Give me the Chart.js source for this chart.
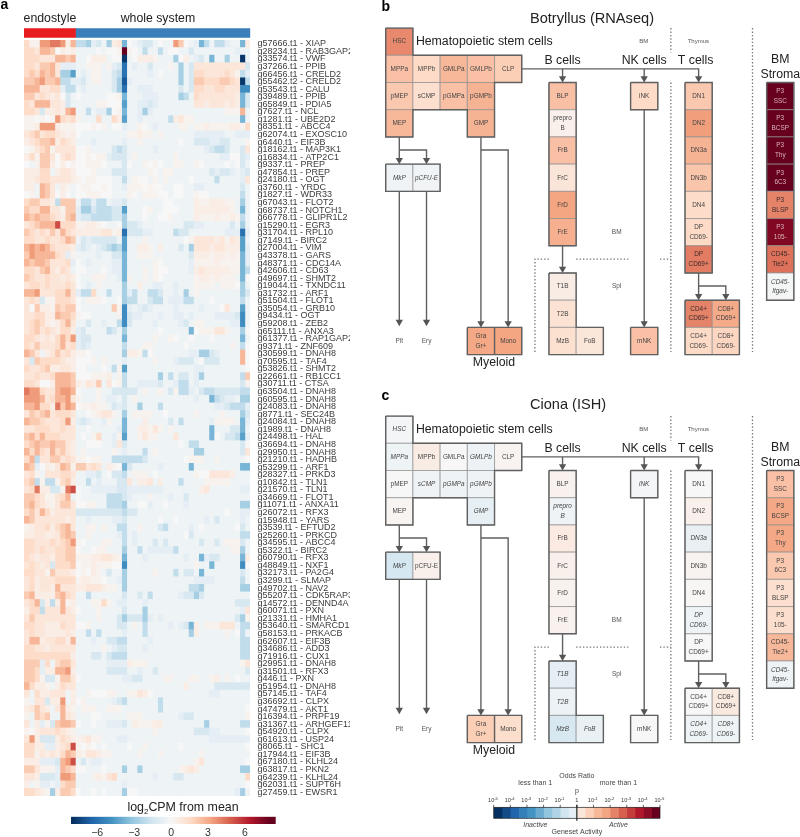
<!DOCTYPE html>
<html><head><meta charset="utf-8">
<style>
html,body{margin:0;padding:0;background:#fff;width:800px;height:837px;overflow:hidden;font-family:"Liberation Sans",Arial,sans-serif}
canvas{position:absolute;display:block}
#cbTitle{position:absolute;left:60px;width:246px;top:800px;text-align:center;font-size:12.4px;line-height:14px;color:#222}
#cbTitle sub{font-size:8px;line-height:0}
</style>
<script src="https://cdn.jsdelivr.net/npm/chart.js@4"></script>
</head><body>
<canvas id="heat" width="350" height="837" style="left:0;top:0;width:350px;height:837px"></canvas>
<canvas id="anno" width="260" height="40" style="left:0;top:0;width:260px;height:40px"></canvas>
<canvas id="cbar" width="246" height="42" style="left:60px;top:795px;width:246px;height:42px"></canvas>
<div id="cbTitle">log<sub>2</sub>CPM from mean</div>
<canvas id="panelB" width="450" height="388" style="left:350px;top:0;width:450px;height:388px"></canvas>
<canvas id="panelC" width="450" height="388" style="left:350px;top:388px;width:450px;height:388px"></canvas>
<canvas id="legend" width="200" height="67" style="left:480px;top:770px;width:200px;height:67px"></canvas>
<script>
const FONT='"Liberation Sans",Arial,sans-serif';

// ---------- panel a data ----------
const geneLabels=["g57666.t1 - XIAP","g28234.t1 - RAB3GAP2","g33574.t1 - VWF","g37266.t1 - PPIB","g66456.t1 - CRELD2","g55462.t2 - CRELD2","g53543.t1 - CALU","g39489.t1 - PPIB","g65849.t1 - PDIA5","g7627.t1 - NCL","g1281.t1 - UBE2D2","g8351.t1 - ABCC4","g62074.t1 - EXOSC10","g6440.t1 - EIF3B","g18162.t1 - MAP3K1","g16834.t1 - ATP2C1","g9337.t1 - PREP","g47854.t1 - PREP","g24180.t1 - OGT","g3760.t1 - YRDC","g1827.t1 - WDR33","g67043.t1 - FLOT2","g68737.t1 - NOTCH1","g66778.t1 - GLIPR1L2","g15290.t1 - EGR3","g31704.t1 - RPL10","g7149.t1 - BIRC2","g27004.t1 - VIM","g43378.t1 - GARS","g48371.t1 - CDC14A","g42606.t1 - CD63","g49697.t1 - SHMT2","g19044.t1 - TXNDC11","g31732.t1 - ARF1","g51504.t1 - FLOT1","g35054.t1 - GRB10","g9434.t1 - OGT","g59208.t1 - ZEB2","g65111.t1 - ANXA3","g61377.t1 - RAP1GAP2","g9371.t1 - ZNF609","g30599.t1 - DNAH8","g70595.t1 - TAF4","g53826.t1 - SHMT2","g22661.t1 - RB1CC1","g30711.t1 - CTSA","g63504.t1 - DNAH8","g60595.t1 - DNAH8","g24083.t1 - DNAH8","g8771.t1 - SEC24B","g24084.t1 - DNAH8","g1989.t1 - DNAH8","g24498.t1 - HAL","g36694.t1 - DNAH8","g29950.t1 - DNAH8","g21210.t1 - HADHB","g53299.t1 - ARF1","g28327.t1 - PRKD3","g10842.t1 - TLN1","g21570.t1 - TLN1","g34669.t1 - FLOT1","g11071.t1 - ANXA11","g26072.t1 - RFX3","g15948.t1 - YARS","g3539.t1 - EFTUD2","g25260.t1 - PRKCD","g34595.t1 - ABCC4","g5322.t1 - BIRC2","g60790.t1 - RFX3","g48849.t1 - NXF1","g32173.t1 - PA2G4","g3299.t1 - SLMAP","g49702.t1 - NAV2","g55207.t1 - CDK5RAP3","g14572.t1 - DENND4A","g60071.t1 - PXN","g21331.t1 - HMHA1","g53640.t1 - SMARCD1","g58153.t1 - PRKACB","g62607.t1 - EIF3B","g34686.t1 - ADD3","g71916.t1 - CUX1","g29951.t1 - DNAH8","g31501.t1 - RFX3","g446.t1 - PXN","g51954.t1 - DNAH8","g57145.t1 - TAF4","g36692.t1 - CLPX","g47479.t1 - AKT1","g16394.t1 - PRPF19","g31367.t1 - ARHGEF11","g54920.t1 - CLPX","g61613.t1 - USP24","g8065.t1 - SHC1","g17944.t1 - EIF3B","g67180.t1 - KLHL24","g63817.t1 - PKN2","g64239.t1 - KLHL24","g62031.t1 - SUPT6H","g27459.t1 - EWSR1"];

// value codes read per cell from the picture (see levelValues)
const levelValues={'0':0,a:.3,b:.6,c:1,d:1.5,e:2.1,f:2.7,g:3.4,h:4.2,i:5.2,j:6.5,k:8,A:-.4,B:-.8,C:-1.3,D:-2,E:-2.7,F:-3.7,G:-4.4,H:-5,I:-6,J:-6.8,K:-7.8};
// groups: endostyle columns | whole-system 1-9 | 10 | 11-32 | 33 | 34
const cellRows=[
"daagghhgbf DDEBCAEbc F 0ABCCA0AAge0ABFDADDBAA F b",
"ddcffe0bab AAAA0A00a k a0ADAADA00AACAAAAAAAAB A A",
"dddcccffef AA0bbbA00 K A0bbbaAAAE0bABCAFAAEAA K A",
"ddceefcBBB AAaaaAaBC I ABAACAAAaAEACcccccccccc C F",
"dedfefcEEG ABAaaAACD I AAAABA0AAAEACddccccdca D B",
"eefgeefDDB BCAaaAACE J BAAAAAAAAAEACeedddeedc K D",
"fffccddBDD ABAAAAACE I AABBBAAAAACACddccddccc H H",
"eecdcbc0CA 0AAAAA00a F AAABBBAAAAEDAdcccccccb F C",
"dcfffccbCA AAAAaa000 G AABBCBAAAAAAAccbcccbcb F C",
"ddcCbbcbfg AADABBE0a F AABEBAAAAAAAAAAAAAAaaa f A",
"aa0a0agdcd aAAAdAAdb G AABAAAAADbcaaAAAAAAAAA F A",
"aabgggbaaa 000a0aA00 B AAa0ABAAAAaaAaabaaaabb a d",
"cdecddcbab 0AAAAAAAA A aabaaAaAAAAAABBBBBBAAB B B",
"bcdeefbdcb AAABAAAAA B AAaAAAAAAA0AACCCBBCCAA A a",
"0acdeacccc 00aAAAACD C AAAAABAAAAAAAAABCDDCAA C c",
"bdaeec0cdc 00a0aaBCC C AaAAAAAAAaAAAAAAAABB00 C B",
"0Aaeeb0b0a 00aaa0AAA C 0AAa0a0AAaaAAa0AAAA0A0 C A",
"bbbddAbccb 000aAAACC C AAAAa0AaaAAAAAAACBCCBA B C",
"bbcddccccb a0aa000AA D Aa00AaAaAAAA0AAAADAAAA B c",
"bbAfecAbaA 0aa00a0AA B aaa0a00AA00AABBAAAAAAA C A",
"0aAfec0b0A 00aaa00AA A a0Aaaa00A00AAa00AAAAAA D A",
"deeccbDeee ADDBDDABB C AAAAAAA00AAAAbaabbbaaA E A",
"eddffccaee BEECDDDCC G AAA0aAA000AAAbbbbbbbaA F A",
"fefeedcbef BCCDDDDCC E AAA0AA00aAAAAbaaabaaba D A",
"cdefffiddd aabba0AA0 E CCBAAAAAAAACCBBAAAAACA E A",
"edcdcecfdc bbbbbccab I CCCBBAAAADCCAAAAAAABBB I B",
"ddccdccdfe ACBCCCCCA G AAAaAAAAAAA0accccbcacb G A",
"fgfgfdcccb BCBABCDED G AAbbaAbAAACAEcccbccbbb G B",
"egffffdcBa AAAABAACC F AAaaaAAAAAAACbbbabbaba F B",
"feffecccdB 0ABAAAABB F AAAAAa0AAAAABaaaabaaaa F B",
"ddcefcbdcA 00AAA0ABB F AAAaAa00AAAABbcbbbbbaa F D",
"edccdccbcb 0AAaaaAAB F aAAaAa0AAAAAAabbabaaaA F 0",
"cddcdcccdc 0ABAaAAAA E AAbAABBAABAAAaaaaAaaa0 E A",
"ffgcccddfc BDDdAADAA E BDAADDCAABAEAaAAAAAAAA E C",
"cdcCaadddc 0Aaaa0AA0 E DDAACDDABBBDDAAA0AAAAA D A",
"c0ebbaedee 0AAAAAAea H BABCBAAAABAAAABAAA0cAA G A",
"ccddbbfeed a00AAAAAa H CBBAAABAABBABAAAABBBBC H A",
"cdedbabdfc AACAABAAD H CAAAABAAAABCAaaAAAAABB H A",
"cdecdcbddb BCAAAADCA E AAAAAA0AAAAAF0aaaccaAA E 0",
"ddcbcbdfdg BCCAAAAAA F AAAAAaAAa0AA0AAA0AAAAA F A",
"dcecccdfcd BCBAAAAAA D AAAaaAAAAAA0AAAAAAAAaA D 0",
"fecAbcecdb aa0AAAAAA E bbaD0AAAAAAABBEECBAAAA f 0",
"cCeddddcbb 000aAaAAA B AAAAAaAAABCCCA0CCCAAAA f 0",
"dccdebbccb 00AAA0ADa G AAAAAAAAAAAAABBAAAAAAA A 0",
"ccdccdfffe 000aaabAa D AAAAAAEADACCABEAAAAAAA D e",
"ddc00bfffe bacbeAc0a D AABBBBCAABDDABAAAAAAAA C a",
"hggdccfggf 0AAAaAACC C CCAaAAaACaDDBACDDCCCCC D D",
"gggfcdffgc aAAAaABBA C AaAAAAAAAAAAABAAFDCBBA E E",
"ffgddbhegf 0aabaaACB C AAEAAADAAAAAAAAAABBCDD D B",
"cedefcdddc AA0abccaA E AaaaaAA0AAAAAaAAAAaAAA E C",
"feedcccdgb BCBAABaAA F AAAbAAAACADAAAAABaaaaA F B",
"ccdddccdcc AA0AAAAAB F AAbbacaAaAAAAAAAFAAACC F A",
"efdfdddccc A0AadAABa G AAacaaAAAcAAAAAAF0ACCD G B",
"defeefeecb AA000AABc C AAAAAAAAAA0ADDAAAAAAAA C 0",
"fdfdcfdecb AaAAAAAaA B AAADAaAAAAAAAEEAAAAAAA C c",
"dfDcceecdc aa0aaAADD D DDDCAAAAAAA0aaaAAaAAAA A 0",
"feB0bacfea eecdcAba0 F CAAAAABAAAAAFAAAAAAAAA F F",
"cdaAcccddc AABBCA0CC D AaaaA0AAAAAAAa00ccccbA A A",
"deDaDDadeb AADABAAAC C cAbbcAbAAADAAAAaaaaaAA A A",
"cdhbbCCahi 0AABBBBBC C BBBBBBBAAAAAAAbcAAAAAA B B",
"eedcaacdfA 0AAAAADDD C BAAAaAAABAACAAAAAAAAAA A A",
"efdcbaceec 00aaAADDD E AA00BAA0AAABAAAAAAAAAA E E",
"decfdbcccc CCCCCCCCC D CCAAAAAAAAAAAAAAAAA0AA B B",
"feccccccbc AABAAAABB C AAAAAA0AA0AAAAABACAAAA B A",
"abccdbdefc AAaaAaAAD D AAaAAACDAAAABA0AAAAAA0 C A",
"bbccbbcefe AAaAAAAAB D ABAAAAAAAAA0CAAAAAAAAA D D",
"ddcccdcdeg a0AAAaaAA D ABAAACACAAAAAACAACAaaa C A",
"ddcdccddee 0AA0aaAAA E AADABBBBBDAAAAAAAAAAaa E A",
"dcbccbddee aaabbccba F AAABAAAAAAABAAFBCCAAAA F b",
"cdcbcCddde 0aabaaa00 H AAAAAAAAAAAAAaAAFAAAAA H 0",
"ddccaecccb 0a0baACAA E AAAAAaAAADACCAFAAAAAAA C A",
"cdbcccdddd abbaa0AAB E AAAAAAAAAAAAABBBBAAAAA D A",
"cdbccbfccc bbcccbaaA E AAAAAAAAAAAADDEAAAAAAA E E",
"efbbbbefdc AADAAAAAA C AACADAAAAABCCECAAAAAAA A A",
"cdfCbDbfab AAAaadaAB B AAABAAAAAAAAAAAAAAAAAC C C",
"bddDcccfcb 0AAAaAAAA C AAAEAAAAAAAAAAAAAAAAAA B c",
"cecccccccc AAAAaAAAC E CCCEBABAAAAAAAAAAAAAAC E a",
"ddccbbbdcc 00aAAAAAC C AaADAAAABABCFbAaaacccA D D",
"cdccbbbbcb AADADAAAA B AAADAAAAAAAAEbAAAAAaA0 D A",
"cffbccddbf AAABAACCD D AAAABAAAAAAAAAAAAAAAAA D D",
"ddccbccccc AAAAAaABC C AAABAAAAAAAAAAAAAAAAAA D D",
"dddddddddb AAACCACDD D AAAAAAAAAAAAAAAAAAAAAA D D",
"eeeBdAdeec AAAAAABBB B baaaAAAAAAAAAAAAAAAAAA a c",
"eedBbbffgb AAAAAACCC C AABAACAAAAAAAAAAAAAAAA A C",
"eedaCCaeec 0AAAAAAAA B BCCAAAAaaAAAaaAAabAaA0 A A",
"fdbbaAbdcc AAAAAAAAA A AAAAAAAAAAAbAAAAACCCCC C C",
"cAdbbcccAb AAa000aaA A aacb0AAAAAAAAAAABBAAAA A A",
"aAccCbbgAb 0aAAAAABC D AAAAAADAAAAAAAAAAAAAAA A A",
"bcecbAcfba AaaaAAaaa A AAAAAADAAAAAAAAAAAAAAA A 0",
"aAedeAAfcb AAA00AAAA A aaaAAAAAAABCCAAAAAAAAA A a",
"cAbBaCeffe 0AA0AABBB C AbaaabbAAAAAAAAEAAAAAA D D",
"a0bcccdcba AAAAAAAAA A AAAAAaAAAAAAACCCBBAAAA A 0",
"cgbCCCbdcb abcaaAAAB B AAAAAAAAAAAAAAAABBBBBB B B",
"ddbbBBbcdi a0a0A0AAA A 0AAaAAAAAA0AAAAAAAAAAA A 0",
"ddacbcbdfe baccbaaAA A AAaAAAaAAAAAAAaAAAAAAA A A",
"bbbBBBCfgi ACABBAAAA A AAAAAAAAAAAAAacAAAAAAA A 0",
"eecaaaBfed 00AAA0AAA E AAEAAAAAAAabcbAAAAAAAA E E",
"ccbCCCBggf AAAabacdA A AAAAABAAACCAAAAAAAAAAA A d",
"bAaBBABdee AAAAAAAAA B AAAAAAAAAAAAAAAAAAAAAA A 0",
"ddcbaEbeed 0AA0A0AAA E 00AAAAAAAAAAAAAAAAAAAB E A"
];
const heatColumnCount=44;
const sampleGroups=["endostyle","whole system"];
const sampleGroupSizes=[10,34];
const colorbarTicks=[-6,-3,0,3,6];

// ---------- panels b and c data ----------
const cellNames=["HSC","MPPa","MPPb","GMLPa","GMLPb","CLP","pMEP","sCMP","pGMPa","pGMPb","MEP","GMP","MkP","pCFU-E","BLP","prepro\nB","FrB","FrC","FrD","FrE","T1B","T2B","MzB","FoB","iNK","mNK","DN1","DN2","DN3a","DN3b","DN4","DP\nCD69-","DP\nCD69+","CD4+\nCD69+","CD8+\nCD69+","CD4+\nCD69-","CD8+\nCD69-","Gra\nGr+","Mono","P3\nSSC","P3\nBCSP","P3\nThy","P3\n6C3","P3\nBLSP","P3\n105-","CD45-\nTie2+","CD45-\nItgav-"];
const cellCols=[0,0,1,2,3,4,0,1,2,3,0,3,0,1,6,6,6,6,6,6,6,6,6,7,9,9,11,11,11,11,11,11,11,11,12,11,12,3,4,14,14,14,14,14,14,14,14];
const cellLevels=[0,1,1,1,1,1,2,2,2,2,3,3,5,5,2,3,4,5,6,7,9,10,11,11,2,11,2,3,4,5,6,7,8,10,10,11,11,11,11,2,3,4,5,6,7,8,9];
const botryllusActivity=[4.8,3,2,3.3,3,2.5,2.7,1.7,3,3.5,3.3,3.5,-.4,-.3,3,.5,3,1.3,4,3.6,.8,1.5,1.6,1.2,2,3,2.7,4.2,3.5,2.8,1.9,2,5.2,5,3.8,2,2.2,3.9,4,10,10,10,10,5,9.3,5.5,-.15];
const cionaActivity=[-.2,-.5,.8,0,-.6,.3,0,-.4,-.5,-.4,.2,-.9,-1.8,.5,.4,-.4,.9,.5,.4,.4,-1,-.6,-1.7,-.7,-.2,0,0,.5,-.8,.3,.1,-.5,0,0,1,-.5,-.5,2.5,1.8,3,3.9,3.9,2.7,1.7,1.8,3.3,-.5];

// structure of the diagram in grid units (col,row)
const groupOutlines=[
 [[-.5,-.5],[.5,-.5],[.5,.5],[4.5,.5],[4.5,1.5],[3.5,1.5],[3.5,3.5],[2.5,3.5],[2.5,2.5],[.5,2.5],[.5,3.5],[-.5,3.5],[-.5,-.5]],
 [[-.5,4.5],[1.5,4.5],[1.5,5.5],[-.5,5.5],[-.5,4.5]],
 [[2.5,10.5],[4.5,10.5],[4.5,11.5],[2.5,11.5],[2.5,10.5]],[[3.5,10.5],[3.5,11.5]],
 [[5.5,1.5],[6.5,1.5],[6.5,7.5],[5.5,7.5],[5.5,1.5]],
 [[5.5,8.5],[6.5,8.5],[6.5,10.5],[7.5,10.5],[7.5,11.5],[5.5,11.5],[5.5,8.5]],
 [[8.5,1.5],[9.5,1.5],[9.5,2.5],[8.5,2.5],[8.5,1.5]],
 [[8.5,10.5],[9.5,10.5],[9.5,11.5],[8.5,11.5],[8.5,10.5]],
 [[10.5,1.5],[11.5,1.5],[11.5,8.5],[10.5,8.5],[10.5,1.5]],
 [[10.5,9.5],[12.5,9.5],[12.5,11.5],[10.5,11.5],[10.5,9.5]],
 [[13.5,1.5],[14.5,1.5],[14.5,9.5],[13.5,9.5],[13.5,1.5]]
];
const connectors=[
 [[4.5,1],[11,1],[11,1.4]],[[6,1],[6,1.4]],[[9,1],[9,1.4]],
 [[0,3.5],[0,4.4]],[[0,3.98],[1,3.98],[1,4.4]],[[0,5.5],[0,10.3]],[[1,5.5],[1,10.3]],
 [[3,3.5],[3,10.4]],[[3,3.98],[4,3.98],[4,10.4]],
 [[6,7.5],[6,8.4]],[[9,2.5],[9,10.4]],
 [[11,8.5],[11,9.4]],[[11,8.98],[12,8.98],[12,9.4]]
];
const dottedLines=[
 [[9.98,-.5],[9.98,.4]],[[9.98,1.5],[9.98,11.4]],[[12.98,-.5],[12.98,11.4]],
 [[4.985,11.4],[4.985,7.99],[5.5,7.99]],[[6.5,7.99],[8.42,7.99]],[[9.58,7.99],[9.98,7.99]]
];
const arrowHeads=[[6,1.35],[9,1.35],[11,1.35],[0,4.35],[1,4.35],[3,10.35],[4,10.35],[0,10.3],[1,10.3],[6,8.35],[9,10.35],[11,9.35],[12,9.35]];
const diagramLabels=[
 {t:"Hematopoietic stem cells",c:.61,r:0,s:12.3,a:"left"},
 {t:"B cells",c:6,r:.7,s:12.3},{t:"NK cells",c:9,r:.7,s:12.3},{t:"T cells",c:10.89,r:.7,s:12.3},
 {t:"BM",c:8.98,r:0,s:6},{t:"Thymus",c:10.99,r:0,s:6},{t:"BM",c:7.99,r:7,s:6.5},{t:"Spl",c:7.99,r:9,s:6.5},
 {t:"Plt",c:0,r:11,s:6.5},{t:"Ery",c:1,r:11,s:6.5},
 {t:"Myeloid",c:3.48,r:11.8,s:12.3},{t:"BM",c:14,r:.64,s:12.3},{t:"Stroma",c:14,r:1.22,s:12.3}
];

// ---------- colour scales ----------
const rdBu=[[5,48,97],[33,102,172],[67,147,195],[146,197,222],[209,229,240],[247,247,247],[253,219,199],[244,165,130],[214,96,77],[178,24,43],[103,0,31]];
function rdBuColor(v,half){
  const t=Math.max(0,Math.min(1,(v+half)/(2*half)))*10,i=Math.min(9,Math.floor(t)),f=t-i,a=rdBu[i],b=rdBu[i+1];
  return `rgb(${a.map((x,k)=>Math.round(x+(b[k]-x)*f)).join(',')})`;
}
Chart.defaults.font.family=FONT;
Chart.defaults.animation=false;
Chart.defaults.responsive=false;
Chart.defaults.plugins.legend.display=false;
Chart.defaults.plugins.tooltip.enabled=false;

// ---------- panel a: heat map ----------
const parsedRows=cellRows.map(s=>{const p=s.split(' ');return (p[0]+p[1]+p[2]+p[3]+p[4]+p[5]).split('').map(ch=>levelValues[ch]);});
const heatDatasets=[];
for(let c=0;c<heatColumnCount;c++){
  heatDatasets.push({data:parsedRows.map(()=>[c,c+1]),backgroundColor:parsedRows.map(r=>rdBuColor(r[c],8)),borderWidth:0,barPercentage:1,categoryPercentage:1});
}
new Chart(document.getElementById('heat'),{type:'bar',data:{labels:geneLabels,datasets:heatDatasets},options:{
  indexAxis:'y',layout:{padding:{left:24,top:40,bottom:41,right:0}},
  scales:{
    x:{type:'linear',min:0,max:heatColumnCount,display:false,stacked:false},
    y:{type:'category',position:'right',stacked:true,grid:{display:false,drawTicks:false},border:{display:false},
      afterFit:s=>{s.width=100;},
      ticks:{autoSkip:false,font:{size:9},color:'#3c3c3c',padding:7.5,maxRotation:0,minRotation:0}}
  }}});

// annotation strip
const annoColors=['#e81c1f','#3a7fb9'];
let annoStart=0;
const annoDatasets=sampleGroups.map((g,i)=>{const d={label:g,data:[[annoStart,annoStart+sampleGroupSizes[i]]],backgroundColor:annoColors[i],borderWidth:0,barPercentage:1,categoryPercentage:1};annoStart+=sampleGroupSizes[i];return d;});
new Chart(document.getElementById('anno'),{type:'bar',data:{labels:[''],datasets:annoDatasets},options:{
  indexAxis:'y',layout:{padding:{left:24,right:9.7,top:28.3,bottom:2.3}},
  scales:{x:{type:'linear',min:0,max:heatColumnCount,display:false,stacked:false},y:{display:false,stacked:true}}
},plugins:[{id:'annoText',afterDatasetsDraw(ch){
  const c=ch.ctx,x=ch.scales.x;c.save();c.fillStyle='#222';c.textBaseline='middle';
  c.font='12.3px '+FONT;c.textAlign='center';
  c.fillText(sampleGroups[0],x.getPixelForValue(5)+.2,18.3);
  c.fillText(sampleGroups[1],x.getPixelForValue(26)+.2,18.3);
  c.font='bold 14px '+FONT;c.textAlign='left';c.fillStyle='#000';c.fillText('a',0.5,5.5);
  c.restore();}}]});

// colour bar
new Chart(document.getElementById('cbar'),{type:'bar',data:{labels:[''],datasets:[{data:[[-8.13,8.5]],borderWidth:0,barPercentage:1,categoryPercentage:1,
  backgroundColor(ctx){const a=ctx.chart.chartArea;if(!a)return '#ccc';const sx=ctx.chart.scales.x,g=ctx.chart.ctx.createLinearGradient(a.left,0,a.right,0);
    for(let i=0;i<=10;i++){const v=-8+1.6*i;g.addColorStop((sx.getPixelForValue(v)-a.left)/(a.right-a.left),rdBuColor(v,8));}return g;}}]},options:{
  indexAxis:'y',layout:{padding:{left:11,right:30.3,top:21.7,bottom:0}},
  scales:{x:{type:'linear',min:-8.13,max:8.5,stacked:false,grid:{display:false,drawTicks:false},border:{display:false},
     afterBuildTicks:s=>{s.ticks=colorbarTicks.map(v=>({value:v}));},afterFit:s=>{s.height=13;},
     ticks:{font:{size:10.5},color:'#333',padding:3,autoSkip:false,maxRotation:0,callback:v=>String(v).replace('-','\u2212')}},
    y:{display:false,stacked:true}}}});

// ---------- panels b, c ----------
function linesToDataset(poly,color,width,dash,order){
  return {type:'scatter',showLine:true,data:poly.map(p=>({x:p[0],y:p[1]})),borderColor:color,borderWidth:width,borderDash:dash||[],pointRadius:0,fill:false,tension:0,order:order,borderJoinStyle:'miter',clip:false};
}
function drawPanel(id,activity,title,titleRow,letter,letterRow){
  const ds=[];
  ds.push({type:'scatter',data:arrowHeads.map(p=>({x:p[0],y:p[1]})),pointStyle:'triangle',pointRotation:180,pointRadius:4.2,pointBackgroundColor:'#555',pointBorderWidth:0,showLine:false,order:0});
  connectors.forEach(p=>ds.push(linesToDataset(p,'#606060',1.4,null,1)));
  groupOutlines.forEach(p=>ds.push(linesToDataset(p,'#606060',1.4,null,1)));
  dottedLines.forEach(p=>ds.push(linesToDataset(p,'#777',1.3,[1.4,2],1)));
  ds.push({type:'scatter',data:cellNames.map((n,i)=>({x:cellCols[i],y:cellLevels[i]})),pointStyle:'rect',pointRadius:19.24,showLine:false,order:2,
    pointBackgroundColor:activity.map(v=>rdBuColor(v,10)),pointBorderColor:'#8f8f8f',pointBorderWidth:.7});
  new Chart(document.getElementById(id),{type:'scatter',data:{datasets:ds},options:{
    layout:{padding:0,autoPadding:false},
    scales:{x:{type:'linear',min:-1.812,max:14.726,display:false},y:{type:'linear',min:-1.532,max:12.727,reverse:true,display:false}}
  },plugins:[{id:'panelText',afterDatasetsDraw(ch){
    const c=ch.ctx,X=v=>ch.scales.x.getPixelForValue(v),Y=v=>ch.scales.y.getPixelForValue(v);
    c.save();c.textBaseline='middle';
    cellNames.forEach((n,i)=>{
      const v=activity[i],ls=n.split('\n'),y=Y(cellLevels[i]),x=X(cellCols[i]);
      c.font=(v<0?'italic ':'')+'6.4px '+FONT;c.textAlign='center';c.fillStyle=v>=8?'#dcb6bc':(v>=5?'#3a2a2a':'#444');
      ls.forEach((t,k)=>c.fillText(t,x,y+(k-(ls.length-1)/2)*9.6));
    });
    c.fillStyle='#2a2a2a';
    diagramLabels.forEach(l=>{c.font=l.s+'px '+FONT;c.textAlign=l.a||'center';c.fillStyle=l.s<8?'#555':'#222';c.fillText(l.t,X(l.c),Y(l.r));});
    c.fillStyle='#222';c.font='14.6px '+FONT;c.textAlign='left';c.fillText(title,X(4.8),Y(titleRow));
    c.fillStyle='#000';c.font='bold 14px '+FONT;c.fillText(letter,31.5,Y(letterRow));
    c.restore();}}]});
}
drawPanel('panelB',botryllusActivity,'Botryllus (RNAseq)',-.82,'b',-1.28);
drawPanel('panelC',cionaActivity,'Ciona (ISH)',-.92,'c',-1.24);

// ---------- activity legend ----------
const legendEdges=[-5,-4.5,-4,-3.5,-3,-2.5,-2,-1.5,-1,-.5,0,.5,1,1.5,2,2.5,3,3.5,4,4.5,5];
const legendColors=['#053061','#134b87','#2166ac','#3480b9','#4393c3','#6dacd1','#92c5de','#b1d5e7','#d1e5f0','#e4eef4','#fbe5d8','#fcd0b9','#f7b799','#f4a582','#e58368','#d6604d','#c43c3c','#b2182b','#8c0d25','#67001f'];
const legendDecades=[-5,-4,-3,-2,-1,0,1,2,3,4,5];
const legendDs=legendColors.map((col,i)=>({data:[[legendEdges[i],legendEdges[i+1]]],backgroundColor:col,borderWidth:0,barPercentage:1,categoryPercentage:1}));
new Chart(document.getElementById('legend'),{type:'bar',data:{labels:[''],datasets:legendDs},options:{
  indexAxis:'y',layout:{padding:{left:13.7,right:20,top:37.3,bottom:18.7}},
  scales:{x:{type:'linear',min:-5,max:5,display:false,stacked:false},y:{display:false,stacked:true}}
},plugins:[{id:'legendText',afterDatasetsDraw(ch){
  const c=ch.ctx,sx=ch.scales.x,a=ch.chartArea,X=v=>sx.getPixelForValue(v);
  c.save();c.strokeStyle='#222';c.lineWidth=.7;
  c.strokeRect(a.left,a.top,a.right-a.left,a.bottom-a.top);
  c.textBaseline='middle';c.textAlign='center';c.fillStyle='#333';
  legendDecades.forEach(d=>{
    const x=X(d);c.beginPath();c.moveTo(x,a.top);c.lineTo(x,a.top-2.5);c.stroke();
    if(d===0){c.font='5.5px '+FONT;c.fillText('1',x,a.top-7);}
    else{c.font='5.5px '+FONT;c.textAlign='right';c.fillText('10',x+.5,a.top-6.5);c.font='4.2px '+FONT;c.textAlign='left';c.fillText('-'+Math.abs(d),x+.5,a.top-8.5);c.textAlign='center';}
  });
  c.lineWidth=1.2;c.beginPath();c.moveTo(X(0),a.top-2.5);c.lineTo(X(0),a.bottom+2.5);c.stroke();
  c.font='7px '+FONT;c.fillStyle='#444';
  c.fillText('Odds Ratio',X(0),6.3);c.fillText('less than 1',X(-2.5),13.3);c.fillText('more than 1',X(2.5),13.3);c.fillText('p',X(0),21);
  c.fillText('Geneset Activity',X(0),61.7);
  c.font='italic 7px '+FONT;c.fillText('Inactive',X(-2.5),55);c.fillText('Active',X(2.5),55);
  c.restore();}}]});
</script>
</body></html>
